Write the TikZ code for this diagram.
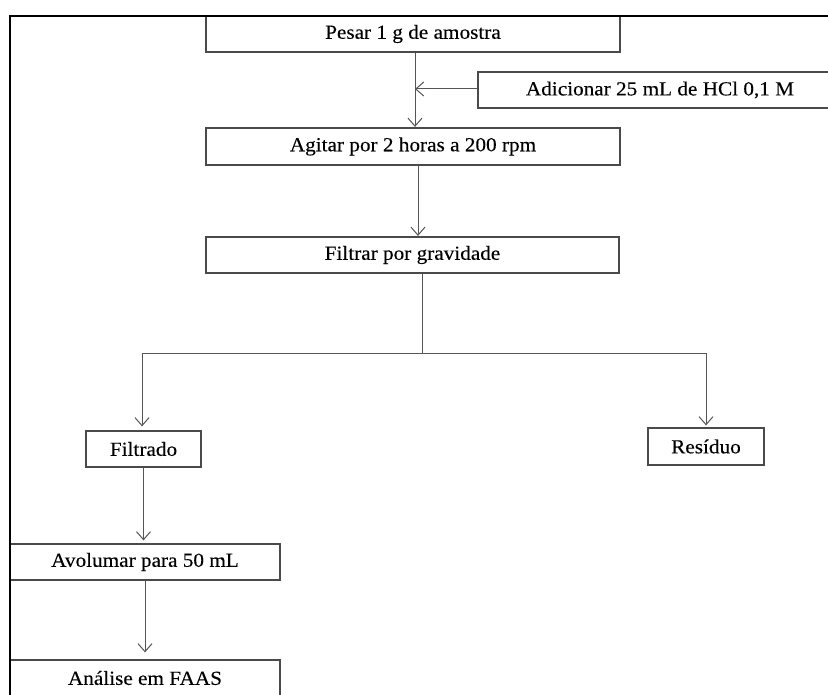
\documentclass[tikz,border=0pt]{standalone}
\usepackage{fontspec}
\setmainfont{Liberation Serif}[FakeStretch=1.065,FakeBold=0.2]
\usetikzlibrary{arrows.meta}
\definecolor{boxgray}{HTML}{4A4A4A}
\definecolor{linegray}{HTML}{555555}
\begin{document}
\begin{tikzpicture}[x=1bp,y=-1bp,
  box/.style={draw=boxgray, line width=1.2bp, minimum height=36bp, inner sep=0pt,
              text=black, font=\fontsize{20}{23}\selectfont, anchor=center},
  conn/.style={draw=linegray, line width=1bp},
  arr/.style={conn, -{Straight Barb[length=8bp,width=14bp,line width=1bp]}}]
\useasboundingbox (0,0) rectangle (828,695);
% nodes
\node[box, minimum width=414bp] (pesar) at (413,34) {Pesar 1 g de amostra};
\node[box, minimum width=364bp, minimum height=36bp] (adic) at (660,90) {Adicionar 25 mL de HCl 0,1 M};
\node[box, minimum width=414bp, minimum height=37bp] (agitar) at (413,146.5) {Agitar por 2 horas a 200 rpm};
\node[box, minimum width=413bp] (filtrar) at (412.5,255) {Filtrar por gravidade};
\node[box, minimum width=115bp] (filtrado) at (143.5,449) {Filtrado};
\node[box, minimum width=116bp, minimum height=37bp] (residuo) at (706,446.5) {Resíduo};
\node[box, minimum width=270bp] (avol) at (145,562) {Avolumar para 50 mL};
\node[box, minimum width=270bp] (analise) at (145,678) {Análise em FAAS};
% frame (drawn over box edges)
\draw[line width=2.2bp, black] (10,700) -- (10,16) -- (840,16);
% coordinates
\coordinate (m1) at (415,52);
\coordinate (m2) at (415,89);
\coordinate (m3) at (418,165);
\coordinate (j) at (422,353);
\coordinate (jl) at (142,353);
\coordinate (jr) at (706,353);
% connectors
\draw[arr, shorten >=0.5bp] (pesar.south -| m1) -- (agitar.north -| m1);
\draw[arr] (adic.west |- m2) -- (m2);
\draw[arr, shorten >=0.5bp] (agitar.south -| m3) -- (filtrar.north -| m3);
\draw[conn] (filtrar.south -| j) -- (j);
\draw[conn] (jl) -- (jr);
\draw[arr, shorten >=4bp] (jl) -- (filtrado.north -| jl);
\draw[arr, shorten >=2bp] (jr) -- (residuo.north);
\draw[arr, shorten >=3bp] (filtrado.south) -- (filtrado.south |- avol.north);
\draw[arr, shorten >=7bp] (avol.south) -- (avol.south |- analise.north);
\end{tikzpicture}
\end{document}
